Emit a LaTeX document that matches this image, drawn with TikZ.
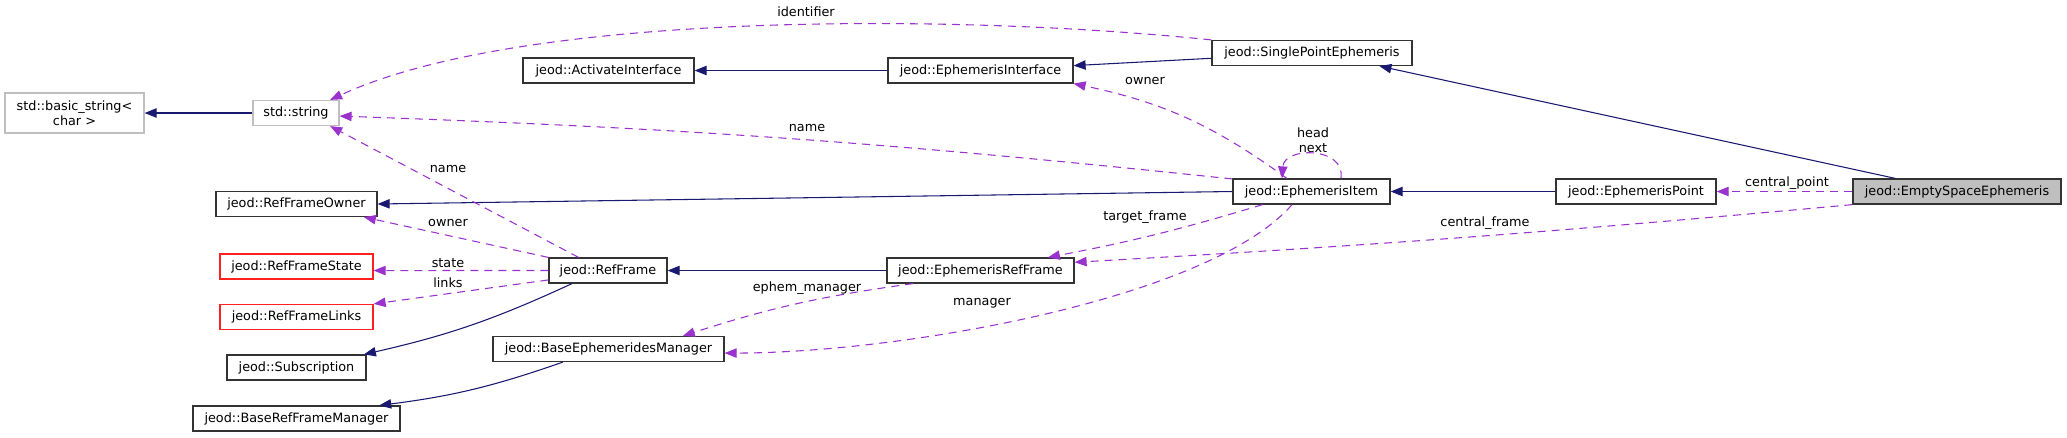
\documentclass[tikz,border=0pt]{standalone}
\usepackage{fontspec}
\setmainfont{DejaVu Sans}
\usetikzlibrary{arrows.meta}
\definecolor{inhblue}{HTML}{191970}
\definecolor{usepurple}{HTML}{9A32CD}
\definecolor{boxgray}{HTML}{BFBFBF}
\definecolor{boxred}{HTML}{FF2020}

\begin{document}
\begin{tikzpicture}[x=0.75pt, y=-0.75pt,
  cls/.style={draw=black!80, fill=white, line width=0.9pt, inner sep=0pt,
    minimum height=25*0.75pt, minimum width=#1*0.75pt,
    font=\fontsize{9.6}{11.5}\selectfont},
  cls/.default=100,
  extcls/.style={cls=#1, draw=boxgray},
  redcls/.style={cls=#1, draw=boxred},
  lbl/.style={inner sep=0pt, font=\fontsize{9.6}{11.5}\selectfont},
  inherit/.style={draw=inhblue, line width=0.8pt,
    -{Triangle[length=9pt,width=7pt]}},
  member/.style={draw=usepurple, line width=0.8pt, dash pattern=on 6pt off 4.5pt,
    -{Triangle[length=9pt,width=7pt]}}]
\useasboundingbox (0,0) rectangle (2067,437);
\node[extcls=139, minimum height=40*0.75pt, align=center] (basic) at (74.5,113) {std::basic\_string<\\char >};
\node[extcls=86] (string) at (296,113) {std::string};
\node[cls=171] (activate) at (608.5,70.5) {jeod::ActivateInterface};
\node[cls=185] (ephint) at (980.5,70.5) {jeod::EphemerisInterface};
\node[cls=200] (single) at (1312,53) {jeod::SinglePointEphemeris};
\node[cls=157] (item) at (1311.5,191.5) {jeod::EphemerisItem};
\node[cls=160] (point) at (1636,191.5) {jeod::EphemerisPoint};
\node[cls=208, fill=boxgray] (empty) at (1957,191.5) {jeod::EmptySpaceEphemeris};
\node[cls=161] (owner) at (296.5,204) {jeod::RefFrameOwner};
\node[redcls=153] (state) at (296.5,266.5) {jeod::RefFrameState};
\node[redcls=153] (links) at (296.5,317) {jeod::RefFrameLinks};
\node[cls=139] (subscr) at (296.5,367.5) {jeod::Subscription};
\node[cls=118] (refframe) at (608,270.5) {jeod::RefFrame};
\node[cls=187] (erf) at (980.5,270.5) {jeod::EphemerisRefFrame};
\node[cls=231] (bem) at (608.5,349) {jeod::BaseEphemeridesManager};
\node[cls=207] (brfm) at (296.5,418.5) {jeod::BaseRefFrameManager};
% labels
\node[lbl] (lidentifier) at (806,12) {identifier};
\node[lbl] (lowner) at (1145,81) {owner};
\node[lbl] (lname) at (807,128) {name};
\node[lbl, align=center] (lheadnext) at (1313,140) {head\\next};
\node[lbl] (ltarget) at (1145,217) {target\_frame};
\node[lbl] (lrfname) at (448,169) {name};
\node[lbl] (lrfowner) at (448,223) {owner};
\node[lbl] (lstate) at (448,263) {state};
\node[lbl] (llinks) at (448,283) {links};
\node[lbl] (lephem) at (807,288) {ephem\_manager};
\node[lbl] (lmanager) at (982,303) {manager};
\node[lbl] (lcpoint) at (1787,183) {central\_point};
\node[lbl] (lcframe) at (1485,223) {central\_frame};
% inheritance
\draw[inherit] (string.west) -- (basic.east);
\draw[inherit] (ephint.west) -- (activate.east);
\draw[inherit] (single.183) -- (ephint.3);
\draw[inherit] (empty.168) -- (single.349);
\draw[inherit] (point.west) -- (item.east);
\draw[inherit] (item.west) -- (owner.east);
\draw[inherit] (erf.west) -- (refframe.east);
\draw[inherit] (refframe.200) to[bend left=6] (subscr.11);
\draw[inherit] (bem.196) to[bend left=6] (brfm.9);
% members
\draw[member] (single.north west) .. controls +(-262,-27) and +(190,-88) .. (string.21);
\draw[member] (item.171) to[bend right=2] (string.356);
\draw[member] (item.152) to[bend right=12] (ephint.-8);
\draw[member] (item.24) .. controls +(5,-32) and +(2,-32) .. (item.156);
\draw[member] (item.195) to[bend left=3] (erf.11);
\draw[member] (item.214) .. controls +(-83,95) and +(174,0) .. (bem.-2);
\draw[member] (empty.west) -- (point.east);
\draw[member] (empty.south west) to[bend left=1] (erf.5);
\draw[member] (refframe.156) -- (string.339);
\draw[member] (refframe.north west) -- (owner.-11);
\draw[member] (refframe.west) -- (state.-3);
\draw[member] (refframe.189) -- (links.north east);
\draw[member] (erf.191) to[bend right=5] (bem.10);
\end{tikzpicture}
\end{document}
